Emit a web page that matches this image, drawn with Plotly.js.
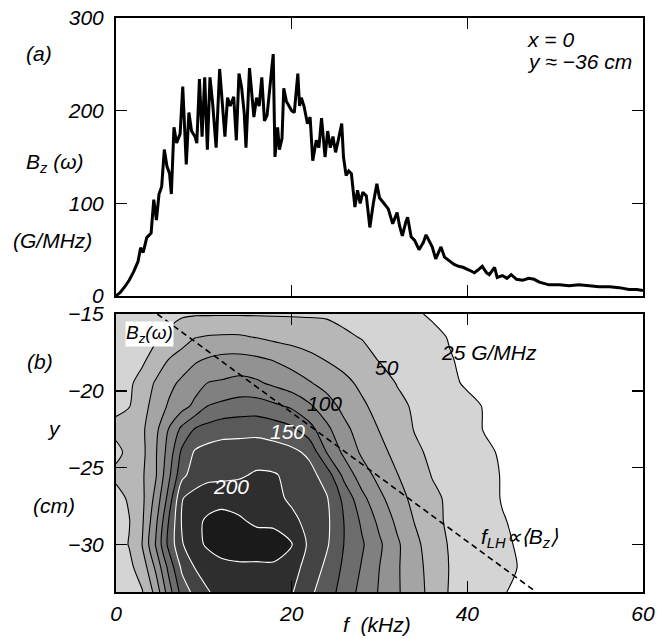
<!DOCTYPE html>
<html>
<head>
<meta charset="utf-8">
<script src="https://cdn.plot.ly/plotly-3.0.1.min.js"></script>
<style>
  html, body { margin: 0; padding: 0; background: #fff; }
  #chart { width: 667px; height: 639px; }
</style>
</head>
<body>
<div id="chart"></div>
<script>
// (a) spectrum B_z(omega) at x = 0, y ~ -36 cm
const freqKHz = [
  0.0, 0.5, 1.0, 1.5, 2.0, 2.5, 2.8, 3.1, 3.5, 4.0, 4.3, 4.6, 4.9, 5.2, 5.5, 5.8, 6.1, 6.3, 6.6, 6.9,
  7.3, 7.6, 8.0, 8.3, 8.6, 9.0, 9.2, 9.5, 9.8, 10.1, 10.4, 10.7, 11.0, 11.4, 11.8, 12.1, 12.4, 12.7, 13.0, 13.4,
  13.7, 14.0, 14.3, 14.6, 14.8, 15.2, 15.5, 15.7, 16.0, 16.3, 16.6, 16.9, 17.2, 17.5, 17.9, 18.1, 18.4, 18.6, 18.9, 19.1,
  19.4, 19.7, 20.0, 20.3, 20.7, 20.9, 21.1, 21.4, 21.8, 22.1, 22.4, 22.8, 23.1, 23.4, 23.8, 24.1, 24.4, 24.7, 25.0, 25.3,
  25.7, 25.9, 26.2, 26.5, 26.8, 27.2, 27.5, 27.8, 28.1, 28.5, 28.9, 29.3, 29.7, 30.0, 30.3, 30.6, 31.0, 31.5, 32.0, 32.3,
  32.6, 33.0, 33.2, 33.6, 34.0, 34.5, 35.0, 35.3, 35.7, 36.0, 36.4, 37.0, 37.4, 38.0, 38.5, 39.0, 39.5, 40.2, 40.8, 41.2,
  41.7, 42.2, 42.5, 43.1, 43.4, 44.0, 44.5, 45.0, 45.6, 46.3, 47.0, 47.6, 48.2, 49.3, 50.5, 51.6, 52.7, 53.9, 55.0, 56.2,
  57.3, 58.4, 59.3, 60.0
];
const bzSpectrum = [
  0, 4, 10, 17, 26, 37, 52, 47, 63, 68, 104, 82, 110, 118, 158, 140, 132, 110, 182, 165,
  175, 226, 142, 198, 178, 172, 165, 234, 172, 236, 158, 236, 208, 160, 245, 205, 172, 214, 205, 215,
  168, 240, 225, 197, 160, 246, 215, 193, 214, 205, 236, 189, 195, 225, 261, 150, 182, 158, 170, 224,
  210, 205, 200, 198, 240, 205, 214, 205, 186, 193, 146, 168, 160, 192, 150, 178, 160, 172, 155, 168,
  186, 150, 130, 135, 132, 96, 114, 100, 112, 108, 74, 100, 121, 106, 102, 98, 94, 78, 90, 75,
  65, 80, 85, 64, 60, 50, 58, 66, 58, 53, 40, 53, 42, 38, 34, 32, 31, 28, 25, 28,
  32, 25, 23, 31, 20, 22, 19, 23, 18, 17, 19, 18, 15, 12, 12, 11, 12, 11, 10, 10,
  9, 7, 7, 6
];

// (b) B_z(omega) map over frequency f (kHz) and position y (cm), in G/MHz
const gridF = [0, 1.5, 3, 4.5, 6, 7.5, 9, 10.5, 12, 14, 16, 18, 20, 22, 24, 26, 28, 30, 32, 34,
               36, 38, 40, 42, 44, 46, 48, 51, 54, 57, 60];
const gridY = [-33.1, -31.5, -30, -28.5, -27, -25.5, -24, -22.5, -21, -19.5, -18, -16.5, -15];
const bzMap = [
  [35, 42, 49, 82, 138, 185, 208, 224, 231, 240, 240, 240, 227, 206, 186, 165, 142, 123, 103, 86, 67, 48, 41, 33, 26, 22, 18, 15, 12, 10, 8],
  [38, 45, 60, 104, 157, 205, 226, 233, 240, 245, 245, 245, 233, 217, 194, 170, 148, 125, 103, 84, 66, 49, 43, 37, 30, 24, 21, 16, 13, 11, 8],
  [40, 51, 76, 126, 182, 223, 241, 255, 265, 265, 265, 265, 251, 220, 203, 174, 153, 129, 104, 82, 62, 48, 41, 35, 28, 23, 20, 15, 13, 10, 8],
  [40, 49, 72, 118, 176, 227, 243, 255, 262, 254, 245, 243, 231, 218, 205, 174, 146, 119, 95, 74, 57, 46, 39, 32, 26, 22, 18, 15, 12, 10, 8],
  [42, 53, 70, 107, 159, 224, 233, 238, 239, 239, 240, 231, 221, 212, 202, 168, 132, 106, 85, 68, 55, 46, 39, 31, 24, 21, 17, 14, 12, 10, 8],
  [55, 63, 72, 97, 144, 193, 213, 219, 220, 222, 228, 227, 219, 209, 189, 142, 112, 92, 76, 62, 49, 43, 36, 30, 24, 20, 17, 14, 12, 10, 8],
  [45, 55, 69, 97, 135, 180, 203, 210, 212, 213, 214, 211, 206, 195, 149, 119, 96, 82, 68, 54, 46, 40, 34, 28, 23, 20, 16, 14, 12, 10, 8],
  [55, 63, 71, 93, 126, 156, 177, 184, 190, 191, 192, 188, 180, 160, 131, 106, 89, 74, 61, 49, 43, 37, 31, 24, 21, 18, 15, 13, 12, 10, 8],
  [46, 49, 66, 85, 103, 116, 131, 151, 156, 161, 162, 155, 146, 129, 110, 93, 79, 67, 56, 47, 41, 35, 29, 24, 20, 16, 15, 13, 11, 10, 8],
  [42, 47, 57, 78, 93, 105, 115, 126, 128, 133, 129, 120, 111, 102, 92, 81, 70, 60, 49, 43, 35, 28, 23, 19, 16, 15, 14, 12, 11, 10, 8],
  [38, 43, 47, 58, 76, 86, 97, 103, 107, 108, 105, 99, 92, 83, 74, 67, 58, 49, 44, 38, 32, 26, 22, 18, 16, 15, 14, 12, 11, 10, 8],
  [36, 40, 44, 47, 54, 64, 74, 77, 78, 78, 74, 69, 65, 61, 57, 53, 49, 44, 39, 34, 29, 24, 21, 17, 15, 14, 13, 12, 11, 9, 8],
  [35, 37, 39, 41, 44, 47, 48, 48, 48, 48, 48, 48, 48, 48, 48, 45, 42, 38, 33, 27, 23, 19, 16, 15, 14, 13, 13, 12, 10, 9, 8]
];

// contour levels (G/MHz)
const levelStart = 25, levelStep = 25, levelEnd = 250;
const darkLineEnd = 175;   // black lines up to here, white lines above
// lower-hybrid frequency trend line f_LH ∝ <B_z>
const fLH_f = [4.7, 47.6];
const fLH_y = [-15.0, -33.0];

const fTicks = [0, 20, 40, 60];
const bTicks = [0, 100, 200, 300];
const yTicks = [-30, -25, -20, -15];

// gray shade of each band: below 25, 25-50, ..., above 250
const bandGrays = ['#ffffff', '#d4d4d4', '#b7b7b7', '#a4a4a4', '#929292', '#808080',
                   '#6d6d6d', '#595959', '#434343', '#2e2e2e', '#1a1a1a'];
const grayScale = bandGrays.map((c, i) => [i / (bandGrays.length - 1), c]);

const FONT = 'Liberation Sans, Arial, Helvetica, sans-serif';
const italic21 = { family: FONT, size: 21, color: '#000', style: 'italic' };
const whiteItalic = { family: FONT, size: 21, color: '#fff', style: 'italic' };

const traces = [
  {
    type: 'scatter', mode: 'lines', x: freqKHz, y: bzSpectrum,
    xaxis: 'x', yaxis: 'y',
    line: { color: '#000', width: 3 }, hoverinfo: 'skip'
  },
  {
    type: 'contour', x: gridF, y: gridY, z: bzMap, xaxis: 'x2', yaxis: 'y2',
    autocontour: false,
    contours: { start: levelStart, end: levelEnd, size: levelStep, coloring: 'fill', showlines: false },
    colorscale: grayScale, showscale: false,
    line: { width: 0, smoothing: 0.8 }, hoverinfo: 'skip'
  },
  {
    type: 'contour', x: gridF, y: gridY, z: bzMap, xaxis: 'x2', yaxis: 'y2',
    autocontour: false,
    contours: { start: levelStart, end: darkLineEnd, size: levelStep, coloring: 'none' },
    showscale: false,
    line: { color: '#000', width: 1.1, smoothing: 0.8 }, hoverinfo: 'skip'
  },
  {
    type: 'contour', x: gridF, y: gridY, z: bzMap, xaxis: 'x2', yaxis: 'y2',
    autocontour: false,
    contours: { start: darkLineEnd + levelStep, end: levelEnd, size: levelStep, coloring: 'none' },
    showscale: false,
    line: { color: '#fff', width: 1.1, smoothing: 0.8 }, hoverinfo: 'skip'
  },
  {
    type: 'scatter', mode: 'lines', x: fLH_f, y: fLH_y, xaxis: 'x2', yaxis: 'y2',
    line: { color: '#000', width: 1.6, dash: '6px,4px' }, hoverinfo: 'skip'
  }
];

const frame = {
  showline: true, linecolor: '#000', linewidth: 2, mirror: 'ticks',
  ticks: 'inside', ticklen: 11, tickwidth: 1.6, tickcolor: '#000',
  showgrid: false, zeroline: false, tickfont: italic21, fixedrange: true
};

const TOP_LO = 0.5157, BOT_HI = 0.4843;

// centred text helper
function label(text, xref, yref, x, y, font, extra) {
  return Object.assign({ text, xref, yref, x, y, xanchor: 'center', yanchor: 'middle',
                         showarrow: false, font }, extra || {});
}

const annotations = [
  // panel (a) side labels
  label('(a)', 'paper', 'paper', -0.146, 0.939, italic21),
  label('<i>B<sub>z</sub></i> (ω)', 'paper', 'paper', -0.116, 0.747, { family: FONT, size: 21, color: '#000' }),
  label('(G/MHz)', 'paper', 'paper', -0.121, 0.613, italic21),
  label('x = 0', 'paper', 'paper', 0.776, 0.962, italic21, { xanchor: 'left' }),
  label('y ≈ −36 cm', 'paper', 'paper', 0.776, 0.925, italic21, { xanchor: 'left' }),
  // panel (b) side labels
  label('(b)', 'paper', 'paper', -0.144, 0.402, italic21),
  label('y', 'paper', 'paper', -0.118, 0.285, italic21),
  label('(cm)', 'paper', 'paper', -0.118, 0.150, italic21),
  label('f  (kHz)', 'paper', 'paper', 0.495, -0.057, italic21),
  // panel (b) in-plot labels
  label('<i>B<sub>z</sub></i>(ω)', 'x2', 'y2', 3.86, -16.3, { family: FONT, size: 19, color: '#000' },
        { bgcolor: '#fff', borderpad: 0 }),
  label('25 G/MHz', 'x2', 'y2', 42.5, -17.5, italic21),
  label('50', 'x2', 'y2', 30.9, -18.5, italic21),
  label('100', 'x2', 'y2', 23.75, -20.8, italic21),
  label('150', 'x2', 'y2', 19.5, -22.66, whiteItalic),
  label('200', 'x2', 'y2', 13.07, -26.2, whiteItalic),
  label('f<sub>LH</sub>∝⟨B<sub>z</sub>⟩', 'x2', 'y2', 45.9, -29.6, italic21)
];

const layout = {
  width: 667, height: 639,
  margin: { l: 116, r: 24, t: 18, b: 47 },
  paper_bgcolor: '#fff', plot_bgcolor: '#fff',
  showlegend: false,
  font: italic21,
  xaxis: Object.assign({}, frame, { domain: [0, 1], anchor: 'y', range: [0, 60], tickvals: fTicks, showticklabels: false }),
  yaxis: Object.assign({}, frame, { domain: [TOP_LO, 1], anchor: 'x', range: [0, 300], tickvals: bTicks, ticklabelstandoff: 6 }),
  xaxis2: Object.assign({}, frame, { domain: [0, 1], anchor: 'y2', range: [0, 60], tickvals: fTicks, ticklabelstandoff: 2 }),
  yaxis2: Object.assign({}, frame, { domain: [0, BOT_HI], anchor: 'x2', range: [-33.1, -15], tickvals: yTicks, ticklabelstandoff: 6 }),
  annotations: annotations
};

Plotly.newPlot('chart', traces, layout, { displayModeBar: false, staticPlot: true });
</script>
</body>
</html>
